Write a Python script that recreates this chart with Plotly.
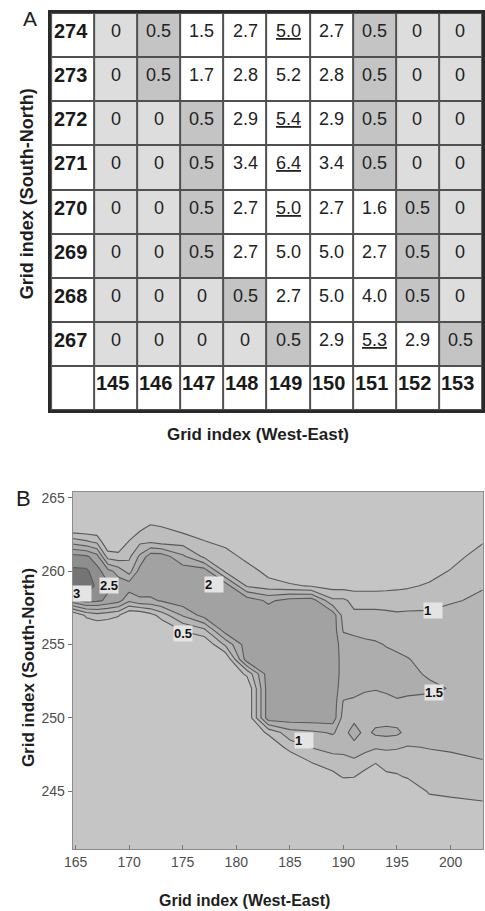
import numpy as np
import plotly.graph_objects as go

W, H = 485, 911
FONT = "Liberation Sans, Arial, sans-serif"

# ---------------- Panel A data ----------------
col_idx = [145, 146, 147, 148, 149, 150, 151, 152, 153]
row_idx = [274, 273, 272, 271, 270, 269, 268, 267]
cell_vals = [
    [0, 0.5, 1.5, 2.7, 5.0, 2.7, 0.5, 0, 0],
    [0, 0.5, 1.7, 2.8, 5.2, 2.8, 0.5, 0, 0],
    [0, 0, 0.5, 2.9, 5.4, 2.9, 0.5, 0, 0],
    [0, 0, 0.5, 3.4, 6.4, 3.4, 0.5, 0, 0],
    [0, 0, 0.5, 2.7, 5.0, 2.7, 1.6, 0.5, 0],
    [0, 0, 0.5, 2.7, 5.0, 5.0, 2.7, 0.5, 0],
    [0, 0, 0, 0.5, 2.7, 5.0, 4.0, 0.5, 0],
    [0, 0, 0, 0, 0.5, 2.9, 5.3, 2.9, 0.5],
]
underlined = [(274, 149), (272, 149), (271, 149), (270, 149), (267, 151)]

# ---------------- Panel B data ----------------
cx = [164.7, 166, 167, 168, 169, 170, 171, 172, 173, 175, 177, 179, 181, 183,
      185, 187, 189, 190, 191, 192, 193, 194, 195, 196, 198, 200, 203]
cy = [241, 242, 243, 244, 245, 246, 247, 248, 249, 250, 251, 252, 253,
      254, 255, 256, 257, 258, 259, 260, 261, 262, 263, 264, 265, 266]
# one profile (south -> north, rows of cy) per column of cx
z_cols = [
    [0, 0, 0, 0, 0, 0, 0, 0, 0, 0, 0, 0, 0, 0, 0, 0, 0, 2.3, 3.4, 3.1, 2.7, 1.3, 0, 0, 0, 0],
    [0, 0, 0, 0, 0, 0, 0, 0, 0, 0, 0, 0, 0, 0, 0, 0, 0.6, 2.7, 3.3, 3.1, 2.6, 1.1, 0, 0, 0, 0],
    [0, 0, 0, 0, 0, 0, 0, 0, 0, 0, 0, 0, 0, 0, 0, 0, 0.8, 2.6, 2.9, 2.7, 2.2, 0.9, 0, 0, 0, 0],
    [0, 0, 0, 0, 0, 0, 0, 0, 0, 0, 0, 0, 0, 0, 0, 0, 0.7, 2.4, 2.6, 2.2, 0.8, 0, 0, 0, 0, 0],
    [0, 0, 0, 0, 0, 0, 0, 0, 0, 0, 0, 0, 0, 0, 0, 0, 0.55, 2.2, 2.3, 1.8, 0.7, 0, 0, 0, 0, 0],
    [0, 0, 0, 0, 0, 0, 0, 0, 0, 0, 0, 0, 0, 0, 0, 0, 0, 1.6, 2.3, 1.3, 0.9, 0.55, 0, 0, 0, 0],
    [0, 0, 0, 0, 0, 0, 0, 0, 0, 0, 0, 0, 0, 0, 0, 0, 0, 1.9, 2.3, 2.2, 1.6, 0.9, 0.35, 0, 0, 0],
    [0, 0, 0, 0, 0, 0, 0, 0, 0, 0, 0, 0, 0, 0, 0, 0, 0.3, 1.9, 2.3, 2.3, 2.3, 0.95, 0.6, 0, 0, 0],
    [0, 0, 0, 0, 0, 0, 0, 0, 0, 0, 0, 0, 0, 0, 0, 0, 0.7, 2.05, 2.3, 2.3, 2.3, 0.8, 0.52, 0, 0, 0],
    [0, 0, 0, 0, 0, 0, 0, 0, 0, 0, 0, 0, 0, 0, 0, 0.55, 1.55, 2.3, 2.3, 2.3, 1.6, 0.8, 0.3, 0, 0, 0],
    [0, 0, 0, 0, 0, 0, 0, 0, 0, 0, 0, 0, 0, 0, 0, 0.9, 2.2, 2.3, 2.3, 2.3, 0.9, 0.55, 0, 0, 0, 0],
    [0, 0, 0, 0, 0, 0, 0, 0, 0, 0, 0, 0, 0, 0, 1.1, 2.3, 2.3, 2.3, 2.3, 0.9, 0.8, 0.3, 0, 0, 0, 0],
    [0, 0, 0, 0, 0, 0, 0, 0, 0, 0, 0, 0, 0.6, 2.3, 2.3, 2.3, 2.3, 2.3, 0.95, 0.8, 0.3, 0, 0, 0, 0, 0],
    [0, 0, 0, 0, 0, 0, 0, 0, 0.6, 2.3, 2.3, 2.3, 2.3, 2.3, 2.3, 2.3, 2.3, 1.9, 0.75, 0.3, 0, 0, 0, 0, 0, 0],
    [0, 0, 0, 0, 0, 0, 0, 0.7, 1.3, 2.3, 2.3, 2.3, 2.3, 2.3, 2.3, 2.3, 2.3, 2.2, 0.6, 0, 0, 0, 0, 0, 0, 0],
    [0, 0, 0, 0, 0, 0, 0.52, 1.02, 1.4, 2.3, 2.3, 2.3, 2.3, 2.3, 2.3, 2.3, 2.3, 2.3, 0.45, 0, 0, 0, 0, 0, 0, 0],
    [0, 0, 0, 0, 0, 0.35, 0.75, 1.2, 1.55, 2.3, 2.3, 2.3, 2.3, 2.3, 2.3, 2.3, 2.3, 1.1, 0.3, 0, 0, 0, 0, 0, 0, 0],
    [0, 0, 0, 0, 0, 0.55, 0.85, 1.15, 1.3, 1.3, 1.45, 1.7, 1.8, 1.8, 1.75, 1.45, 1.3, 1.1, 0.3, 0, 0, 0, 0, 0, 0, 0],
    [0, 0, 0, 0, 0.1, 0.52, 0.9, 1.3, 1.75, 1.35, 1.4, 1.65, 1.75, 1.75, 1.65, 1.4, 1.1, 0.85, 0.3, 0, 0, 0, 0, 0, 0, 0],
    [0, 0, 0, 0, 0, 0.3, 0.75, 1.15, 1.35, 1.3, 1.35, 1.55, 1.7, 1.7, 1.6, 1.35, 1.1, 0.85, 0.3, 0, 0, 0, 0, 0, 0, 0],
    [0, 0, 0, 0, 0, 0.05, 0.55, 1.05, 1.6, 1.3, 1.35, 1.52, 1.65, 1.65, 1.55, 1.35, 1.1, 0.85, 0.3, 0, 0, 0, 0, 0, 0, 0],
    [0, 0, 0, 0, 0, 0.4, 0.7, 1.08, 1.65, 1.3, 1.4, 1.55, 1.65, 1.6, 1.48, 1.3, 1.05, 0.9, 0.3, 0, 0, 0, 0, 0, 0, 0],
    [0, 0, 0, 0, 0, 0.45, 0.7, 1.05, 1.6, 1.3, 1.45, 1.6, 1.65, 1.55, 1.45, 1.25, 1.03, 0.9, 0.35, 0, 0, 0, 0, 0, 0, 0],
    [0, 0, 0, 0, 0.15, 0.55, 0.8, 0.97, 1.35, 1.3, 1.4, 1.6, 1.6, 1.52, 1.35, 1.2, 1.02, 0.95, 0.4, 0, 0, 0, 0, 0, 0, 0],
    [0, 0, 0, 0.3, 0.55, 0.7, 0.85, 1.02, 1.25, 1.3, 1.35, 1.58, 1.45, 1.35, 1.25, 1.15, 1.05, 0.9, 0.6, 0.2, 0, 0, 0, 0, 0, 0],
    [0, 0, 0, 0.35, 0.6, 0.75, 0.9, 1.05, 1.25, 1.3, 1.35, 1.48, 1.38, 1.3, 1.25, 1.2, 1.1, 0.97, 0.85, 0.55, 0.2, 0, 0, 0, 0, 0],
    [0, 0, 0, 0.45, 0.6, 0.8, 0.98, 1.1, 1.15, 1.2, 1.2, 1.25, 1.25, 1.25, 1.25, 1.2, 1.15, 1.05, 0.98, 0.95, 0.85, 0.45, 0, 0, 0, 0],
]
contour_levels = dict(start=0.5, end=3.0, size=0.5)
band_colors = ["#c5c5c5", "#bdbdbd", "#b5b5b5", "#adadad", "#a2a2a2", "#8e8e8e", "#747474"]
contour_labels = [("3", 165.64, 258.5), ("2.5", 168.15, 259.0), ("2", 177.9, 259.1),
                  ("0.5", 175.0, 255.75), ("1", 198.4, 257.35), ("1", 186.34, 248.44),
                  ("1.5", 198.46, 251.73)]
x_ticks = [165, 170, 175, 180, 185, 190, 195, 200]
y_ticks = [245, 250, 255, 260, 265]

fig = go.Figure()

# ---------------- Panel A: table ----------------
nr, nc = len(row_idx), len(col_idx)
shade = [[0] * (nc + 1) for _ in range(nr + 1)]
for i, r in enumerate(row_idx):
    for j, v in enumerate(cell_vals[i]):
        shade[nr - i][j + 1] = 1 if v == 0 else (2 if v == 0.5 else 0)

fig.add_trace(go.Heatmap(
    x=list(range(nc + 1)), y=list(range(nr + 1)), z=shade,
    zmin=0, zmax=2, xgap=2, ygap=2, showscale=False, hoverinfo="skip",
    colorscale=[[0, "#ffffff"], [0.33, "#ffffff"], [0.34, "#dddddd"], [0.66, "#dddddd"],
                [0.67, "#c4c4c4"], [1, "#c4c4c4"]],
    xaxis="x", yaxis="y"))

ann = []
for i, r in enumerate(row_idx):
    yv = nr - i
    ann.append(dict(x=-0.5, y=yv, xref="x", yref="y", text=f"<b>{r}</b>", showarrow=False,
                    xanchor="left", yanchor="middle", xshift=1, yshift=4,
                    font=dict(size=20, color="#1a1a1a", family=FONT)))
    for j, v in enumerate(cell_vals[i]):
        t = "0" if v == 0 else f"{v:.1f}"
        if (r, col_idx[j]) in underlined:
            t = f"<u>{t}</u>"
        ann.append(dict(x=j + 1, y=yv, xref="x", yref="y", text=t, showarrow=False,
                        xanchor="center", yanchor="middle", yshift=4,
                        font=dict(size=18, color="#222222", family=FONT)))
for j, c in enumerate(col_idx):
    ann.append(dict(x=j + 0.5, y=0, xref="x", yref="y", text=f"<b>{c}</b>", showarrow=False,
                    xanchor="left", yanchor="middle", xshift=0, yshift=5,
                    font=dict(size=20, color="#1a1a1a", family=FONT)))

# ---------------- Panel B: contour ----------------
z = np.array(z_cols).T.tolist()
ncl = len(band_colors) - 1
fig.add_trace(go.Contour(
    x=cx, y=cy, z=z, xaxis="x2", yaxis="y2",
    autocontour=False,
    contours=dict(start=contour_levels["start"], end=contour_levels["end"],
                  size=contour_levels["size"], coloring="fill", showlines=True),
    colorscale=[[k / ncl, c] for k, c in enumerate(band_colors)],
    showscale=False, hoverinfo="skip",
    line=dict(color="#595959", width=1.1, smoothing=0)))

for t, lx, ly in contour_labels:
    ann.append(dict(x=lx, y=ly, xref="x2", yref="y2", text=f"<b>{t}</b>", showarrow=False,
                    bgcolor="#e4e4e4", width=18, height=15, align="left", borderpad=0,
                    font=dict(size=13, color="#111111", family=FONT)))

# panel letters and titles
def paper(px, py):
    return px / W, 1 - py / H

for txt, (px, py), size, ang, bold in [
    ("A", (21, 17), 21, 0, False),
    ("B", (15, 498), 22, 0, False),
    ("Grid index (West-East)", (254, 433), 17, 0, True),
    ("Grid index (South-North)", (18, 192), 18, -90, True),
    ("Grid index (West-East)", (240, 900), 16, 0, True),
    ("Grid index (South-North)", (20, 667), 17, -90, True),
]:
    x0, y0 = paper(px, py)
    ann.append(dict(x=x0, y=y0, xref="paper", yref="paper",
                    text=f"<b>{txt}</b>" if bold else txt, showarrow=False, textangle=ang,
                    xanchor="center", yanchor="middle",
                    font=dict(size=size, color="#1e1e1e", family=FONT)))

fig.update_layout(
    width=W, height=H, margin=dict(l=0, r=0, t=0, b=0),
    paper_bgcolor="white", plot_bgcolor=band_colors[0],
    showlegend=False, annotations=ann,
    font=dict(family=FONT),
    shapes=[dict(type="rect", xref="x domain", yref="y domain", x0=0, x1=1, y0=0, y1=1,
                 fillcolor="#505050", line=dict(width=0), layer="below")],
    xaxis=dict(domain=[43 / W, 483 / W], range=[-0.5, nc + 0.5], showticklabels=False,
               ticks="", showgrid=False, zeroline=False, showline=True, mirror=True,
               linewidth=3, linecolor="#2a2a2a", anchor="y", fixedrange=True),
    yaxis=dict(domain=[1 - 409 / H, 1 - 11 / H], range=[-0.5, nr + 0.5], showticklabels=False,
               ticks="", showgrid=False, zeroline=False, showline=True, mirror=True,
               linewidth=3, linecolor="#2a2a2a", anchor="x", fixedrange=True),
    xaxis2=dict(domain=[65 / W, 484 / W], range=[164.73, 203.03], anchor="y2",
                tickmode="array", tickvals=x_ticks, ticks="inside", ticklen=4, tickcolor="#777777",
                showline=True, mirror=True, linecolor="#8c8c8c", linewidth=1,
                showgrid=False, zeroline=False,
                tickfont=dict(size=14, color="#4d4d4d", family=FONT)),
    yaxis2=dict(domain=[1 - 849 / H, 1 - 491 / H], range=[241.05, 265.41], anchor="x2",
                tickmode="array", tickvals=y_ticks, ticks="outside", ticklen=4, tickcolor="#777777",
                showline=True, mirror=True, linecolor="#8c8c8c", linewidth=1,
                showgrid=False, zeroline=False,
                tickfont=dict(size=14, color="#4d4d4d", family=FONT)),
)

fig.write_html("out.html", config={"displayModeBar": False})
